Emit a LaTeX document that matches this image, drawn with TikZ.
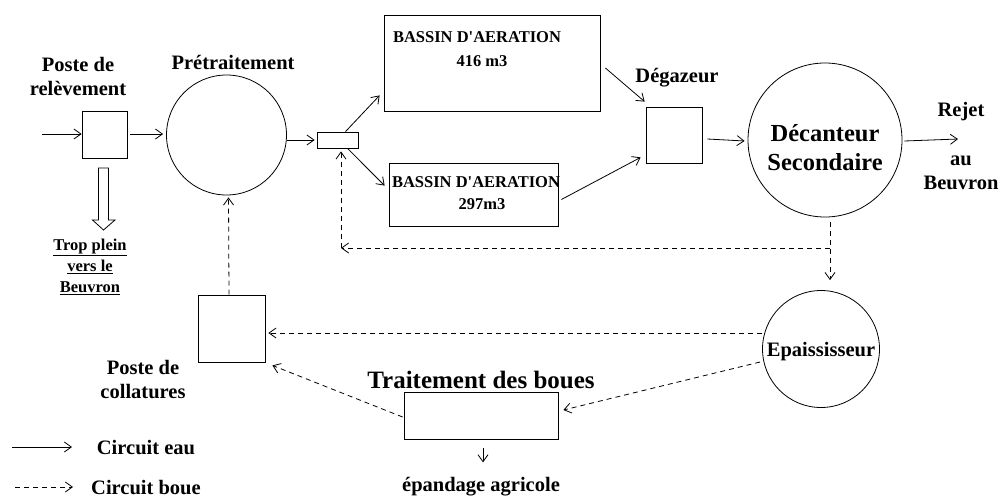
\documentclass[tikz,border=0pt]{standalone}
\usepackage{fontspec}
\setmainfont{Liberation Serif}
\usetikzlibrary{arrows.meta}
\begin{document}
\begin{tikzpicture}[x=1pt,y=-1pt,
  >={Straight Barb[length=7pt,width=10pt]},
  line width=0.8pt,
  box/.style={draw,rectangle,inner sep=0pt},
  circ/.style={draw,circle,inner sep=0pt},
  eau/.style={->},
  boue/.style={->,dash pattern=on 5pt off 4pt},
  lbl/.style={font=\bfseries\fontsize{20.5pt}{24pt}\selectfont,align=center,inner sep=0pt},
  big/.style={font=\bfseries\fontsize{25pt}{29pt}\selectfont,align=center,inner sep=0pt},
  bas/.style={font=\bfseries\fontsize{16.5pt}{20pt}\selectfont,align=center,inner sep=0pt},
  trop/.style={font=\bfseries\fontsize{16.5pt}{21pt}\selectfont,align=center,inner sep=0pt}]
\useasboundingbox (0,0) rectangle (1003,498);

% main nodes
\node[box,minimum width=45pt,minimum height=47pt] (relev) at (104.5,134.5) {};
\node[circ,minimum size=120pt] (pret) at (226.5,135) {};
\node[box,minimum width=41pt,minimum height=16pt] (split) at (337.5,140) {};
\node[box,minimum width=216pt,minimum height=96pt] (b1) at (492,63) {};
\node[box,minimum width=169pt,minimum height=63pt] (b2) at (473.5,194.5) {};
\node[box,minimum width=56pt,minimum height=56pt] (degaz) at (674,135) {};
\node[circ,minimum size=154pt] (decant) at (825,140) {};
\node[circ,minimum size=117pt] (epais) at (821,349) {};
\node[box,minimum width=67pt,minimum height=67pt] (coll) at (231.5,328.5) {};
\node[box,minimum width=154pt,minimum height=47pt] (trait) at (481,415.5) {};

% labels
\node[lbl] (tposte) at (78,76) {Poste de\\relèvement};
\node[lbl] (tpret) at (233,62) {Prétraitement};
\node[trop] (ttrop) at (90,267) {\underline{Trop plein}\\\underline{vers le}\\\underline{Beuvron}};
\node[bas] (tb1a) at (477,37) {BASSIN D\textquotesingle AERATION};
\node[bas] (tb1b) at (482,61) {416 m3};
\node[bas] (tb2a) at (476,182) {BASSIN D\textquotesingle AERATION};
\node[bas] (tb2b) at (482,204) {297m3};
\node[lbl] (tdeg) at (677,78) {Dégazeur};
\node[big,font=\bfseries\fontsize{24.5pt}{29pt}\selectfont] (tdec) at (825,148) {Décanteur\\Secondaire};
\node[lbl] (trej) at (961,112) {Rejet};
\node[lbl] (tau) at (961,173) {au\\Beuvron};
\node[lbl] (tepa) at (821,352) {Epaississeur};
\node[lbl] (tcoll) at (143,380) {Poste de\\collatures};
\node[big] (ttrait) at (481,380) {Traitement des boues};
\node[lbl] (tepand) at (481,487) {épandage agricole};
\node[lbl] (teau) at (146,448) {Circuit eau};
\node[lbl] (tboue) at (146,488) {Circuit boue};

% water circuit
\coordinate (inlet) at (42,134);
\draw[eau] (inlet) -- ([yshift=0.5pt]relev.west);
\draw[eau] ([xshift=3pt,yshift=0.5pt]relev.east) -- ([xshift=-3pt]pret.west |- 0,134);
\draw[eau] (split.west -| pret.east) -- ([xshift=-2pt]split.west);
\draw[eau] ([xshift=8pt]split.north) -- ([xshift=-4pt,yshift=16pt]b1.south west);
\draw[eau] ([xshift=10pt]split.south) -- ([xshift=-4pt,yshift=-23pt]b2.north west);
\draw[eau] ([xshift=5pt,yshift=-5pt]b1.east) -- ([xshift=-1pt,yshift=5pt]degaz.north west);
\draw[eau] ([xshift=3pt,yshift=-5pt]b2.east) -- ([xshift=-5pt,yshift=6pt]degaz.south west);
\draw[eau] ([xshift=5pt,yshift=-4pt]degaz.east) -- ([xshift=-3pt,yshift=-1pt]decant.west);
\coordinate (rejet) at (958,139);
\draw[eau] ([xshift=2pt,yshift=-1pt]decant.east) -- (rejet);
\draw[eau] ([xshift=2pt,yshift=-9pt]trait.south) -- ++(0,14);

% overflow hollow arrow
\draw[line width=0.8pt] (98.5,168) -- (108.5,168) -- (108.5,220) -- (115,220) -- (103.5,230) -- (92.5,220) -- (98.5,220) -- cycle;

% sludge circuit
\draw[boue] ([xshift=5pt,yshift=-5pt]decant.south) -- ([xshift=9pt,yshift=10pt]epais.north);
\coordinate (retR) at (830,248);
\coordinate (retL) at (341,248);
\draw[boue] (retR) -- (retL);
\draw[boue] (retL) -- ([xshift=3.5pt,yshift=-3pt]split.south);
\draw[boue] ([yshift=16pt]epais.west) -- ([xshift=3pt,yshift=-4.5pt]coll.east);
\draw[boue] ([xshift=-2pt,yshift=-13pt]epais.west) -- ([xshift=5pt,yshift=5.5pt]trait.east);
\draw[boue] ([xshift=-1pt,yshift=-1.5pt]trait.west) -- ([xshift=7pt,yshift=-3pt]coll.south east);
\draw[boue] ([xshift=-2.5pt]coll.north) -- ([xshift=2pt,yshift=-2pt]pret.south);

% legend
\coordinate (le1) at (12,447);
\coordinate (le2) at (72,447);
\draw[eau] (le1) -- (le2);
\coordinate (lb1) at (15,487);
\coordinate (lb2) at (73,487);
\draw[boue] (lb1) -- (lb2);
\end{tikzpicture}
\end{document}
